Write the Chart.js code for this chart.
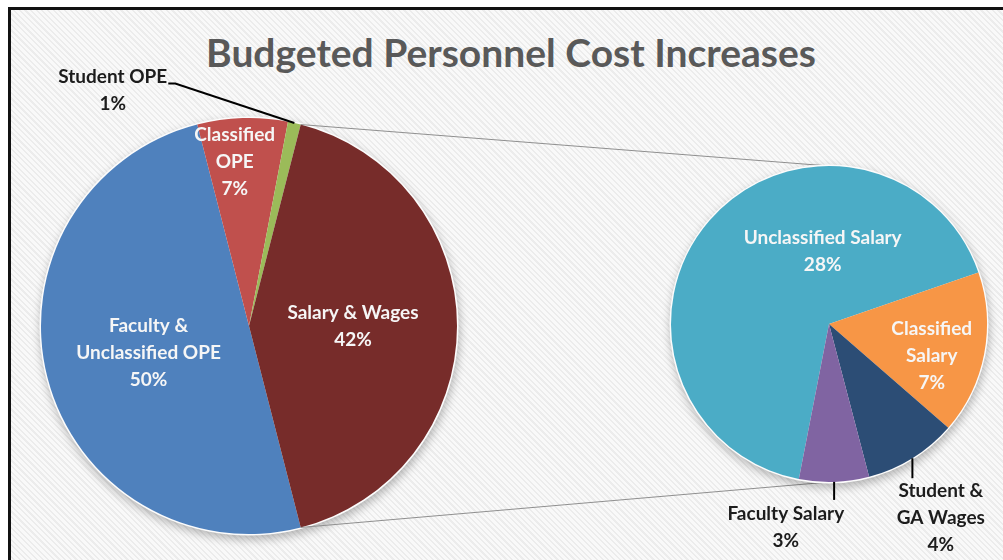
<!DOCTYPE html>
<html lang="en">
<head>
<meta charset="UTF-8">
<title>Budgeted Personnel Cost Increases</title>
<script src="https://cdn.jsdelivr.net/npm/chart.js"></script>
<style>
  html, body { margin: 0; padding: 0; background: #fff; }
  body { width: 1003px; height: 560px; overflow: hidden; position: relative; }
  .frame {
    position: absolute; left: 8px; top: 7px; width: 1100px; height: 700px;
    border: 3px solid #111;
    background: repeating-linear-gradient(45deg, #ececec 0px, #ececec 1.6px, #f9f9f9 1.6px, #f9f9f9 4px);
  }
  .title {
    position: absolute; left: 0; top: 33px; width: 1022px; text-align: center;
    font: bold 39px/1 Lato, sans-serif; color: #595959;
  }
  canvas { position: absolute; left: 0; top: 0; }
</style>
</head>
<body>
<div class="frame"></div>
<div class="title">Budgeted Personnel Cost Increases</div>
<canvas id="mainPie" width="1003" height="560"></canvas>
<canvas id="splitPie" width="1003" height="560"></canvas>
<script>
// Share of the total personnel cost increase, in percent
const mainLabels = ['Faculty &\nUnclassified OPE', 'Classified\nOPE', 'Student OPE', 'Salary & Wages'];
const mainValues = [50, 7, 1, 42];
const mainColors = ['#4f81bd', '#c0504d', '#9bbb59', '#772c2a'];

// Salary & Wages broken out (same percent-of-total basis)
const splitLabels = ['Unclassified Salary', 'Classified\nSalary', 'Student &\nGA Wages', 'Faculty Salary'];
const splitValues = [28, 7, 4, 3];
const splitColors = ['#4bacc6', '#f79646', '#2c4d75', '#8064a2'];

// index of the main slice that the second pie expands
const splitIndex = mainLabels.length - 1;

const LABEL_FONT = 'bold 19px Lato, sans-serif';
const LINE_H = 27;

// label placement: a = degrees clockwise from 12 o'clock, d = fraction of radius
const mainPlace = [
  { a: 255, d: 0.5 },
  { a: 355, d: 0.79 },
  { a: 330, d: 1.31, outside: true, leader: 'elbow' },
  { a: 90, d: 0.5 }
];
const splitPlace = [
  { a: 355, d: 0.46 },
  { a: 107, d: 0.68 },
  { a: 150, d: 1.415, outside: true, leader: 'drop', drop: 20 },
  { a: 192, d: 1.315, outside: true, leader: 'drop', drop: 18 }
];

let mainChart = null;

function edgePoint(arc, extra) {
  const mid = (arc.startAngle + arc.endAngle) / 2;
  const r = arc.outerRadius + (extra || 0);
  return { x: arc.x + Math.cos(mid) * r, y: arc.y + Math.sin(mid) * r };
}

const pieDecor = {
  id: 'pieDecor',
  beforeDatasetsDraw(chart, args, opts) {
    const ctx = chart.ctx;
    const first = chart.getDatasetMeta(0).data[0];

    // lines joining the expanded slice to the second pie
    if (opts.linked && mainChart) {
      const src = mainChart.getDatasetMeta(0).data[splitIndex];
      ctx.save();
      ctx.strokeStyle = '#8f8f8f';
      ctx.lineWidth = 1;
      ctx.beginPath();
      ctx.moveTo(src.x + Math.cos(src.startAngle) * src.outerRadius, src.y + Math.sin(src.startAngle) * src.outerRadius);
      ctx.lineTo(first.x, first.y - first.outerRadius);
      ctx.moveTo(src.x + Math.cos(src.endAngle) * src.outerRadius, src.y + Math.sin(src.endAngle) * src.outerRadius);
      ctx.lineTo(first.x, first.y + first.outerRadius);
      ctx.stroke();
      ctx.restore();
    }

    // soft shadow behind the pie
    ctx.save();
    ctx.shadowColor = 'rgba(0,0,0,0.28)';
    ctx.shadowBlur = 10;
    ctx.shadowOffsetX = 1;
    ctx.shadowOffsetY = 4;
    ctx.fillStyle = '#fcfcfc';
    ctx.beginPath();
    ctx.arc(first.x, first.y, first.outerRadius + 1.5, 0, Math.PI * 2);
    ctx.fill();
    ctx.restore();
  },
  afterDatasetsDraw(chart, args, opts) {
    const ctx = chart.ctx;
    const arcs = chart.getDatasetMeta(0).data;
    const values = chart.data.datasets[0].data;
    ctx.save();
    ctx.font = LABEL_FONT;
    ctx.textAlign = 'center';
    ctx.textBaseline = 'middle';
    arcs.forEach((arc, i) => {
      const p = opts.place[i];
      const rad = p.a * Math.PI / 180;
      const cx = arc.x + Math.sin(rad) * p.d * arc.outerRadius;
      const cy = arc.y - Math.cos(rad) * p.d * arc.outerRadius;
      const lines = chart.data.labels[i].split('\n').concat(values[i] + '%');
      const top = cy - (lines.length - 1) * LINE_H / 2;

      if (p.outside) {
        const e = edgePoint(arc);
        ctx.strokeStyle = '#000';
        ctx.lineWidth = 2;
        ctx.beginPath();
        ctx.moveTo(e.x, e.y);
        if (p.leader === 'elbow') {
          const right = cx + ctx.measureText(lines[0]).width / 2 + 1;
          ctx.lineTo(right + 7, top + 7);
          ctx.lineTo(right, top + 7);
        } else {
          ctx.lineTo(e.x, e.y + p.drop);
        }
        ctx.stroke();
      }

      ctx.fillStyle = p.outside ? '#1c1c1c' : '#f6f6f6';
      lines.forEach((t, k) => ctx.fillText(t, cx, top + k * LINE_H));
    });
    ctx.restore();
  }
};

function pieConfig(labels, values, colors, rotation, padding, place, linked) {
  return {
    type: 'pie',
    data: {
      labels: labels,
      datasets: [{ data: values, backgroundColor: colors, borderWidth: 0, hoverOffset: 0, offset: 0 }]
    },
    options: {
      responsive: false,
      animation: false,
      events: [],
      rotation: rotation,
      layout: { padding: padding },
      plugins: {
        legend: { display: false },
        tooltip: { enabled: false },
        pieDecor: { place: place, linked: linked }
      }
    },
    plugins: [pieDecor]
  };
}

const mainTotal = mainValues.reduce((s, v) => s + v, 0);
// centre the expanded slice on 3 o'clock
const mainRotation = 90 + mainValues[splitIndex] / mainTotal * 180;

mainChart = new Chart(document.getElementById('mainPie'),
  pieConfig(mainLabels, mainValues, mainColors, mainRotation,
    { left: 41, top: 118, right: 546, bottom: 26 }, mainPlace, false));

new Chart(document.getElementById('splitPie'),
  pieConfig(splitLabels, splitValues, splitColors, 191,
    { left: 671, top: 166, right: 16, bottom: 78 }, splitPlace, true));
</script>
</body>
</html>
